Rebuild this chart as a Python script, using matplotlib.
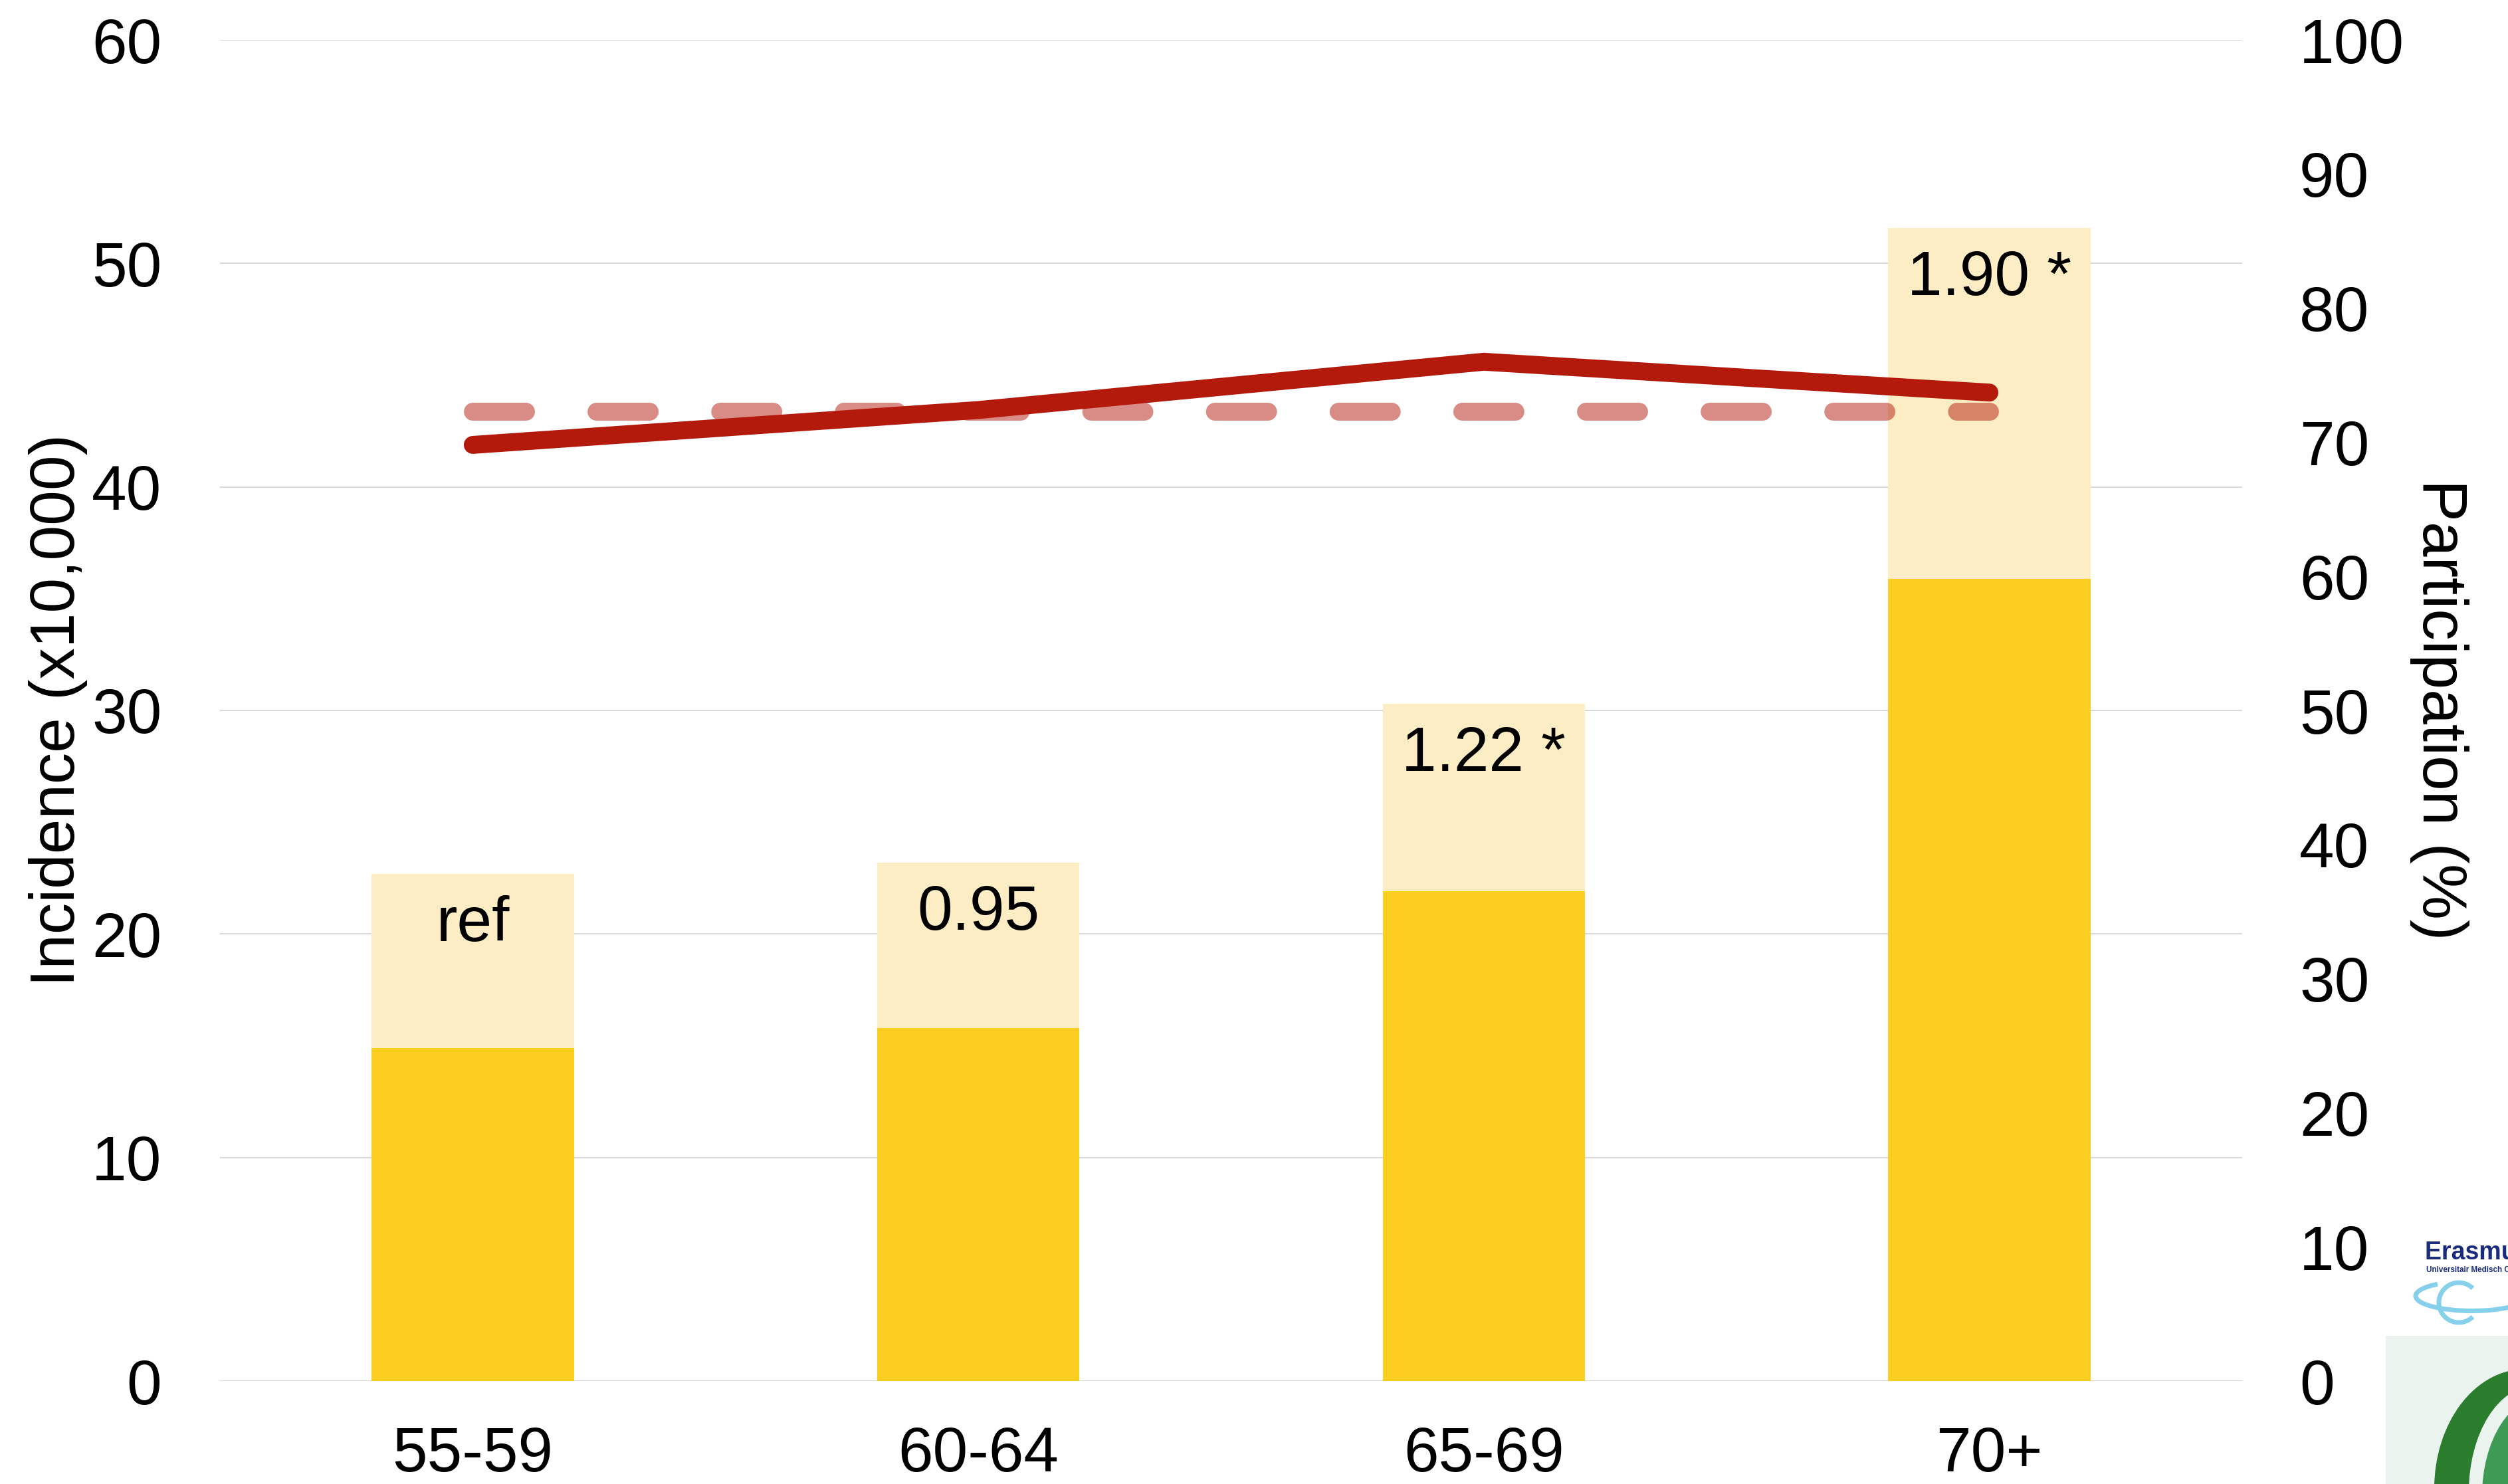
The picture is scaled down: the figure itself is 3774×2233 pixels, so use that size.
import matplotlib
matplotlib.use("Agg")
import matplotlib.pyplot as plt
from matplotlib.patches import Rectangle, Ellipse, Arc
import numpy as np

plt.rcParams['font.family'] = ['Liberation Sans', 'DejaVu Sans']
plt.rcParams['lines.scale_dashes'] = False

# ---- data ----
categories = ["55-59", "60-64", "65-69", "70+"]
incidence_base = [14.9, 15.8, 21.9, 35.9]      # dark yellow part
incidence_total = [22.7, 23.2, 30.3, 51.6]     # top of light part
bar_labels = ["ref", "0.95", "1.22 *", "1.90 *"]
participation = [69.8, 72.4, 76.0, 73.7]
participation_ref = [72.3, 72.3, 72.3, 72.3]
left_ticks = [0, 10, 20, 30, 40, 50, 60]
right_ticks = [0, 10, 20, 30, 40, 50, 60, 70, 80, 90, 100]

W, H, DPI = 3774, 2233, 200
fig = plt.figure(figsize=(W / DPI, H / DPI), dpi=DPI)
fig.patch.set_facecolor("white")

ax = fig.add_axes([331 / W, 1 - 2078 / H, (3374 - 331) / W, (2078 - 60) / H])
ax2 = ax.twinx()

x = np.arange(len(categories))
dark = "#FCCE22"
light = "#FDEDC4"
upper = [t - b for t, b in zip(incidence_total, incidence_base)]
ax.bar(x, incidence_base, width=0.4, color=dark, zorder=2)
ax.bar(x, upper, width=0.4, bottom=incidence_base, color=light, zorder=2)

FS = 34
for xi, tot, lab in zip(x, incidence_total, bar_labels):
    ax.annotate(lab, (xi, tot), xytext=(0, -36.5), textcoords="offset points",
                ha="center", va="baseline", fontsize=FS, color="black", zorder=3)

ax.set_xlim(-0.5, 3.5)
ax.set_ylim(0, 60)
ax.set_yticks(left_ticks)
ax.set_xticks(x)
ax.set_xticklabels(categories)
ax.grid(axis="y", color="#D9D9D9", linewidth=0.75, zorder=0)
ax.set_axisbelow(True)
for s in ax.spines.values():
    s.set_visible(False)
ax.tick_params(axis="y", length=0, labelsize=FS, pad=31.5)
ax.tick_params(axis="x", length=0, labelsize=FS, pad=24)

red = "#B31A0C"
ax2.plot(x, participation_ref, color=red, alpha=0.5, linewidth=9.7,
         dashes=(28.8, 38.2), dash_capstyle="round", zorder=3)
ax2.plot(x, participation, color=red, linewidth=9.7, solid_capstyle="round",
         solid_joinstyle="miter", zorder=4)
ax2.set_ylim(0, 100)
ax2.set_yticks(right_ticks)
for s in ax2.spines.values():
    s.set_visible(False)
ax2.tick_params(axis="y", length=0, labelsize=FS, pad=31)

fig.text(88 / W, 1 - 1068 / H, "Incidence (x10,000)", rotation=90,
         ha="center", va="center", fontsize=FS)
fig.text(3671 / W, 1 - 1068 / H, "Participation (%)", rotation=270,
         ha="center", va="center", fontsize=FS)

# ---- logo approximation (bottom right, partially cut off as in the source) ----
fig.text(3649 / W, 1 - 1895 / H, "Erasmus MC", fontsize=13.5, fontweight="bold",
         color="#1B2C7C", ha="left", va="baseline")
fig.text(3651 / W, 1 - 1914 / H, "Universitair Medisch Centrum Rotterdam",
         fontsize=4.2, fontweight="bold", color="#1B2C7C", ha="left", va="baseline")
fig.patches.append(Arc((3720 / W, 1 - 1950 / H), 170 / W, 45 / H, theta1=150, theta2=350,
                       transform=fig.transFigure, color="#86D0EB", linewidth=2.5))
fig.patches.append(Arc((3700 / W, 1 - 1960 / H), 60 / W, 60 / H, theta1=60, theta2=300,
                       transform=fig.transFigure, color="#86D0EB", linewidth=2.5))
fig.patches.append(Rectangle((3590 / W, 0), (W - 3590) / W, (2233 - 2010) / H,
                             transform=fig.transFigure, facecolor="#EAF3EE",
                             edgecolor="none"))
fig.patches.append(Ellipse((3800 / W, 1 - 2240 / H), 274 / W, 360 / H,
                           transform=fig.transFigure, facecolor="#2B7D2E",
                           edgecolor="none"))
fig.patches.append(Ellipse((3815 / W, 1 - 2245 / H), 200 / W, 320 / H,
                           transform=fig.transFigure, facecolor="#EAF3EE",
                           edgecolor="none"))
fig.patches.append(Ellipse((3830 / W, 1 - 2250 / H), 190 / W, 300 / H,
                           transform=fig.transFigure, facecolor="#3E9A55",
                           edgecolor="none"))

fig.savefig("out.png", dpi=DPI)
